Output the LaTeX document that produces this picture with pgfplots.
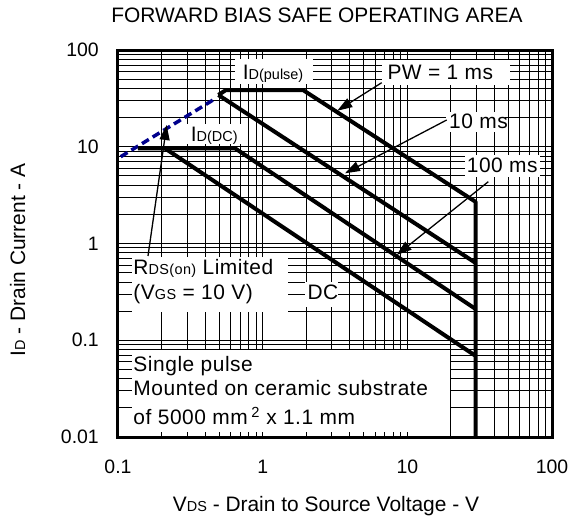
\documentclass[border=0pt]{standalone}
\usepackage{pgfplots}
\pgfplotsset{compat=1.18}
\usepackage{fontspec}
\setmainfont{Liberation Sans}
\usetikzlibrary{arrows.meta}
\definecolor{rdsblue}{RGB}{0,0,140}
\newcommand\fs[1]{\fontsize{#1}{#1}\selectfont}
\newcommand\ann{\fontsize{21}{21}\selectfont\addfontfeatures{LetterSpace=2.6}}
\newcommand\sm[1]{{\fontsize{14.5}{14.5}\selectfont #1}}
\begin{document}
\begin{tikzpicture}
\useasboundingbox (0,0) rectangle (570bp,519bp);
\begin{axis}[
  at={(118bp,82bp)}, anchor=south west,
  scale only axis, width=434bp, height=387bp,
  xmode=log, ymode=log,
  xmin=0.1, xmax=100, ymin=0.01, ymax=100,
  xtick={0.1,1,10,100}, xticklabels={0.1,1,10,100},
  ytick={0.01,0.1,1,10,100}, yticklabels={0.01,0.1,1,10,100},
  grid=both,
  major grid style={black, line width=0.9bp},
  minor grid style={black, line width=0.9bp},
  major tick length=0pt, minor tick length=0pt,
  axis line style={line width=3bp},
  tick label style={font=\fs{19.5}},
  xticklabel style={anchor=north, inner sep=0pt, yshift=-23bp},
  yticklabel style={anchor=east, inner sep=0pt, xshift=-19bp},
]
% R_DS(on) limit (dashed)
\addplot[rdsblue, line width=3.5bp, dash pattern=on 8bp off 4.5bp] coordinates {(0.1044,7.89) (0.4535,30.4)};
% PW = 1 ms with pulse current limit and V_DSS limit
\addplot[black, line width=4bp, line join=round] coordinates {(0.494,34.3) (0.558,38.6) (1.90,38.6) (29.7,2.69) (29.7,0.01)};
% 10 ms
\addplot[black, line width=4bp, line join=round] coordinates {(0.494,34.3) (29.7,0.629)};
% I_D(DC) limit + 100 ms
\addplot[black, line width=4bp, line join=round] coordinates {(0.1374,9.64) (0.644,9.64) (29.7,0.210)};
% DC
\addplot[black, line width=4bp, line join=round] coordinates {(0.211,9.64) (29.7,0.0688)};
\end{axis}
\begin{scope}[x=1bp,y=-1bp,shift={(0bp,519bp)}]
  % white label boxes
  \fill[white] (235,59) rectangle (313,84);
  \fill[white] (382,60) rectangle (510,85);
  \fill[white] (446,112) rectangle (505,132);
  \fill[white] (465,155) rectangle (540,177);
  \fill[white] (187,124) rectangle (242,144);
  \fill[white] (132,257) rectangle (288,312);
  \fill[white] (305,282) rectangle (338,307);
  \fill[white] (132,350) rectangle (450,432);
  % labels
  \node[anchor=base west, inner sep=0] at (242.7,79.3) {\fs{21}I\sm{D(pulse)}};
  \node[anchor=base west, inner sep=0] at (387.3,79.3) {\ann PW = 1 ms};
  \node[anchor=base west, inner sep=0] at (449,128.3) {\ann 10 ms};
  \node[anchor=base west, inner sep=0] at (466.7,172.7) {\ann 100 ms};
  \node[anchor=base west, inner sep=0] at (190.7,141.7) {\fs{21}I\sm{D(DC)}};
  \node[anchor=base west, inner sep=0] at (133.3,275) {\ann R\sm{DS(on)} Limited};
  \node[anchor=base west, inner sep=0] at (133.3,300) {\ann (V\sm{GS} = 10 V)};
  \node[anchor=base west, inner sep=0] at (307.3,300) {\ann DC};
  \node[anchor=base west, inner sep=0] at (133.3,371.7) {\ann Single pulse};
  \node[anchor=base west, inner sep=0] at (133.3,396) {\ann Mounted on ceramic substrate};
  \node[anchor=base west, inner sep=0] at (133.3,425) {\ann of 5000 mm\,\textsuperscript{2} x 1.1 mm};
  % arrows
  \draw[line width=1.3bp, -{Triangle[length=15bp,width=10bp]}] (381.7,82.7) -- (337.3,110.7);
  \draw[line width=1.3bp, -{Triangle[length=15bp,width=10bp]}] (446.7,120) -- (345,173.3);
  \draw[line width=1.3bp, -{Triangle[length=15bp,width=10bp]}] (488.3,181.7) -- (396.7,255);
  \draw[line width=1.3bp, -{Triangle[length=15bp,width=10bp]}] (148,256) -- (166.7,125);
  % titles
  \node[anchor=base, inner sep=0] at (317,22.5) {\fs{21}FORWARD BIAS SAFE OPERATING AREA};
  \node[anchor=base, inner sep=0] at (326,512) {\fs{21}V\sm{DS} - Drain to Source Voltage - V};
  \node[rotate=90, anchor=base, inner sep=0] at (25,260) {\fs{21}I\sm{D} - Drain Current - A};
\end{scope}
\end{tikzpicture}
\end{document}
